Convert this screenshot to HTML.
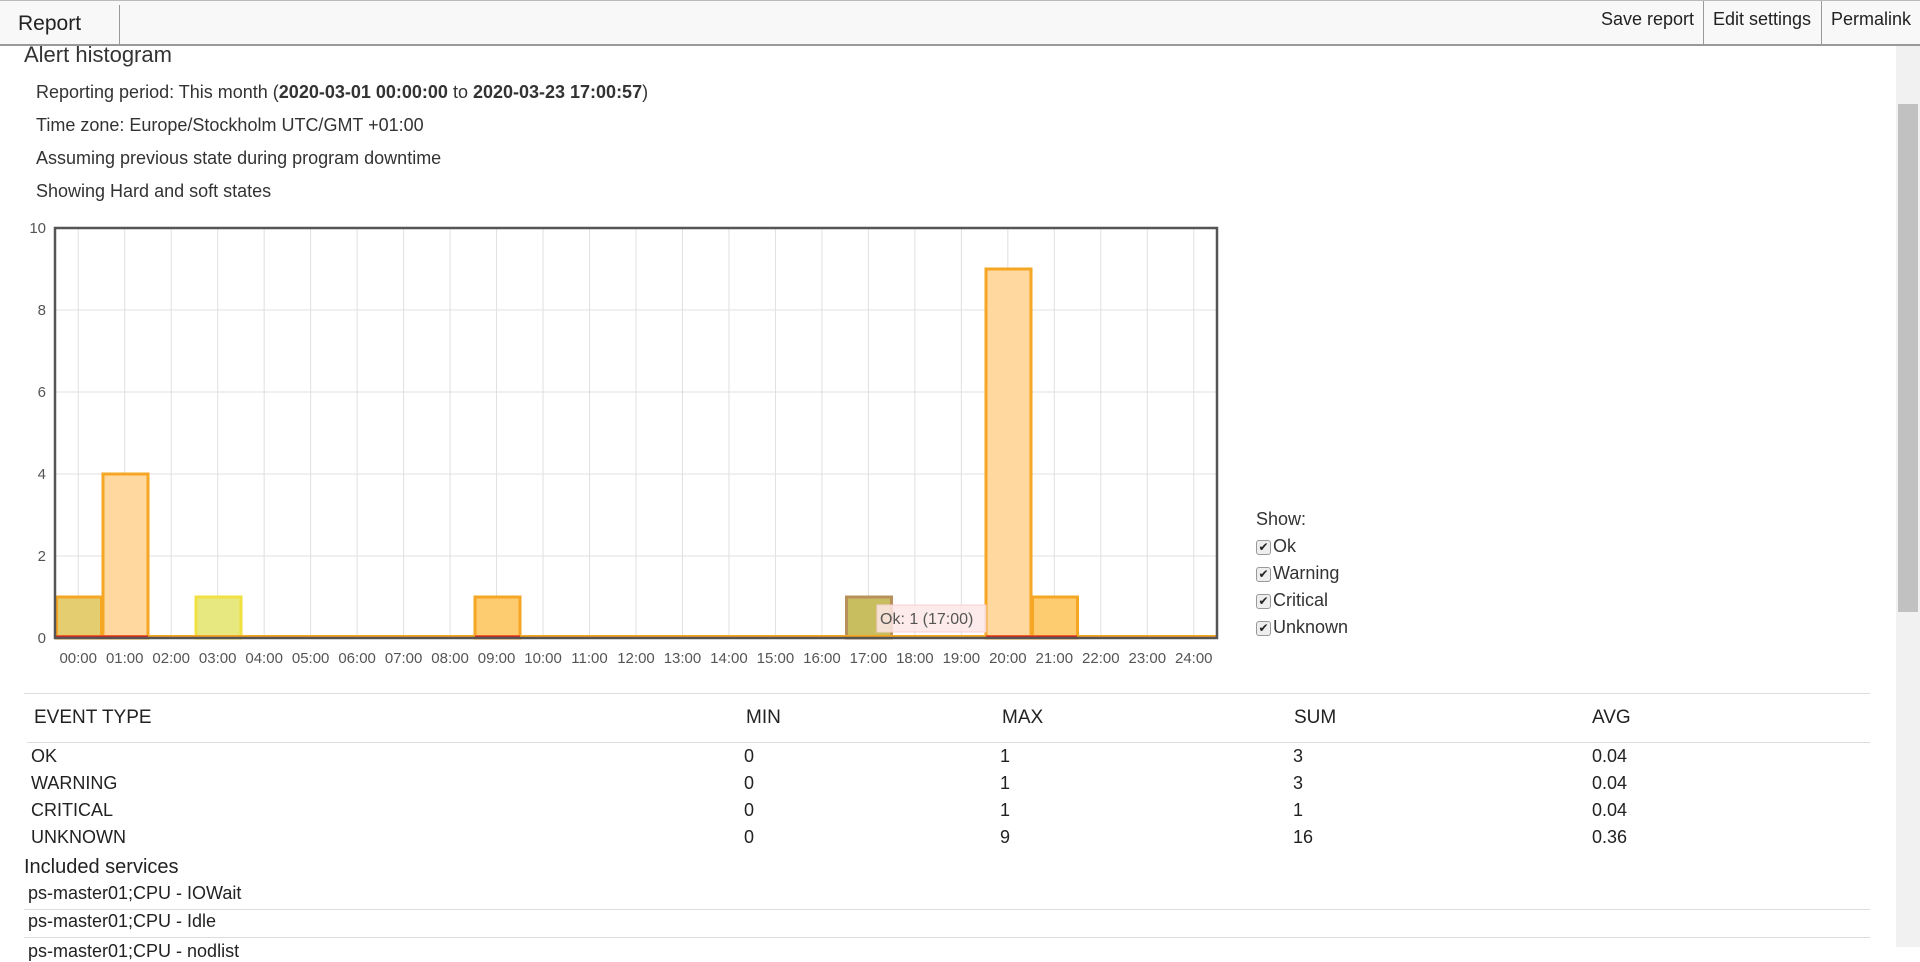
<!DOCTYPE html>
<html><head><meta charset="utf-8"><style>
body{margin:0;width:1920px;height:947px;overflow:hidden;background:#fff;font-family:"Liberation Sans",sans-serif;color:#333;position:relative}
.a{position:absolute;white-space:nowrap}
#hdr{position:absolute;left:0;top:0;width:1920px;height:46px;background:#f8f8f8;border-bottom:2px solid #999;box-sizing:border-box;border-top:1px solid #bbb}
.vd{position:absolute;top:4px;width:1px;height:40px;background:#999}
.t17{font-size:18px}
.tr{font-size:19px;color:#222}
.hl{position:absolute;height:1px;background:#ddd}
.cb{display:inline-block;width:13px;height:13px;border:1px solid #999;border-radius:3px;background:#eee;font-size:12px;line-height:13px;text-align:center;vertical-align:1px;margin-right:2px;color:#222}
</style></head><body>
<div id="hdr">
<div class="a" style="left:18px;top:11px;font-size:21px;color:#222">Report</div>
<div class="vd" style="left:119px"></div>
<div class="a" style="left:1601px;top:8px;font-size:18px;color:#222">Save report</div>
<div class="vd" style="left:1703px;top:0;height:44px"></div>
<div class="a" style="left:1713px;top:8px;font-size:18px;color:#222">Edit settings</div>
<div class="vd" style="left:1821px;top:0;height:44px"></div>
<div class="a" style="left:1831px;top:8px;font-size:18px;color:#222">Permalink</div>
</div>
<div style="position:absolute;left:1896px;top:46px;width:24px;height:901px;background:#f1f1f1"></div>
<div style="position:absolute;left:1898px;top:104px;width:20px;height:508px;background:#c1c1c1"></div>
<div class="a" style="left:24px;top:42px;font-size:22px;color:#333">Alert histogram</div>
<div class="a t17" style="left:36px;top:82px">Reporting period: This month (<b>2020-03-01 00:00:00</b> to <b>2020-03-23 17:00:57</b>)</div>
<div class="a t17" style="left:36px;top:115px">Time zone: Europe/Stockholm UTC/GMT +01:00</div>
<div class="a t17" style="left:36px;top:148px">Assuming previous state during program downtime</div>
<div class="a t17" style="left:36px;top:181px">Showing Hard and soft states</div>
<svg class="a" style="left:0;top:0" width="1260" height="680" font-family="Liberation Sans, sans-serif">
<g stroke="#e0e0e0" stroke-width="1">
<line x1="55" x2="1217" y1="556" y2="556"/><line x1="55" x2="1217" y1="474" y2="474"/><line x1="55" x2="1217" y1="392" y2="392"/><line x1="55" x2="1217" y1="310" y2="310"/>
</g>
<g stroke="#e0e0e0" id="vg"></g>
<g font-size="15" fill="#555" text-anchor="end">
<text x="46" y="233">10</text><text x="46" y="315">8</text><text x="46" y="397">6</text><text x="46" y="479">4</text><text x="46" y="561">2</text><text x="46" y="643">0</text>
</g>
<g stroke-width="3">
<rect x="56.5" y="597" width="45" height="41" fill="#e4cc70" stroke="#f5a623"/>
<rect x="103" y="474" width="45" height="164" fill="#fed89e" stroke="#f5a623"/>
<rect x="196" y="597" width="45" height="41" fill="#e8e880" stroke="#f0e040"/>
<rect x="475" y="597" width="45" height="41" fill="#fecc70" stroke="#f5a623"/>
<rect x="846.5" y="597" width="45" height="41" fill="#c8be60" stroke="#b8905a"/>
<rect x="986" y="269" width="45" height="369" fill="#fed89e" stroke="#f5a623"/>
<rect x="1032.5" y="597" width="45" height="41" fill="#fecc70" stroke="#f5a623"/>
</g>
<line x1="55" x2="1217" y1="636.5" y2="636.5" stroke="#f5a623" stroke-width="3"/>
<g stroke="#e02020" stroke-width="3">
<line x1="56" x2="148" y1="637" y2="637"/><line x1="475" x2="520" y1="637" y2="637"/><line x1="986" x2="1077" y1="637" y2="637"/>
</g>
<rect x="55" y="228" width="1162" height="410" fill="none" stroke="#555" stroke-width="2.5"/>
<rect x="877" y="605" width="109" height="27" fill="#fde8e8" fill-opacity="0.85" stroke="#f8d0d0"/>
<text x="880" y="624" font-size="16" fill="#555">Ok: 1 (17:00)</text>
<g font-size="15" fill="#555" text-anchor="middle" id="xl"></g>
</svg>
<script>
var vg=document.getElementById('vg'),xl=document.getElementById('xl'),ns='http://www.w3.org/2000/svg';
for(var k=0;k<25;k++){var x=78.24+46.48*k;var l=document.createElementNS(ns,'line');l.setAttribute('x1',x);l.setAttribute('x2',x);l.setAttribute('y1',228);l.setAttribute('y2',638);vg.appendChild(l);
var t=document.createElementNS(ns,'text');t.setAttribute('x',x);t.setAttribute('y',663);t.textContent=(k<10?'0':'')+k+':00';xl.appendChild(t);}
</script>
<div class="a" style="left:1256px;top:506px;font-size:18px;line-height:27px;color:#333">Show:<br><span class="cb">✔</span>Ok<br><span class="cb">✔</span>Warning<br><span class="cb">✔</span>Critical<br><span class="cb">✔</span>Unknown</div>
<div class="hl" style="left:24px;top:693px;width:1846px"></div>
<div class="a tr" style="left:34px;top:707px">EVENT TYPE</div>
<div class="a tr" style="left:746px;top:707px">MIN</div>
<div class="a tr" style="left:1002px;top:707px">MAX</div>
<div class="a tr" style="left:1294px;top:707px">SUM</div>
<div class="a tr" style="left:1592px;top:707px">AVG</div>
<div class="hl" style="left:27px;top:742px;width:1843px"></div>
<div class="a tr" style="left:31px;top:743px;font-size:18px;line-height:27px">OK<br>WARNING<br>CRITICAL<br>UNKNOWN</div>
<div class="a tr" style="left:744px;top:743px;font-size:18px;line-height:27px">0<br>0<br>0<br>0</div>
<div class="a tr" style="left:1000px;top:743px;font-size:18px;line-height:27px">1<br>1<br>1<br>9</div>
<div class="a tr" style="left:1293px;top:743px;font-size:18px;line-height:27px">3<br>3<br>1<br>16</div>
<div class="a tr" style="left:1592px;top:743px;font-size:18px;line-height:27px">0.04<br>0.04<br>0.04<br>0.36</div>
<div class="a" style="left:24px;top:856px;font-size:20px;color:#222">Included services</div>
<div class="a" style="left:28px;top:883px;font-size:18px;color:#222">ps-master01;CPU - IOWait</div>
<div class="hl" style="left:24px;top:909px;width:1846px"></div>
<div class="a" style="left:28px;top:911px;font-size:18px;color:#222">ps-master01;CPU - Idle</div>
<div class="hl" style="left:24px;top:937px;width:1846px"></div>
<div class="a" style="left:28px;top:941px;font-size:18px;color:#222">ps-master01;CPU - nodlist</div>
</body></html>
